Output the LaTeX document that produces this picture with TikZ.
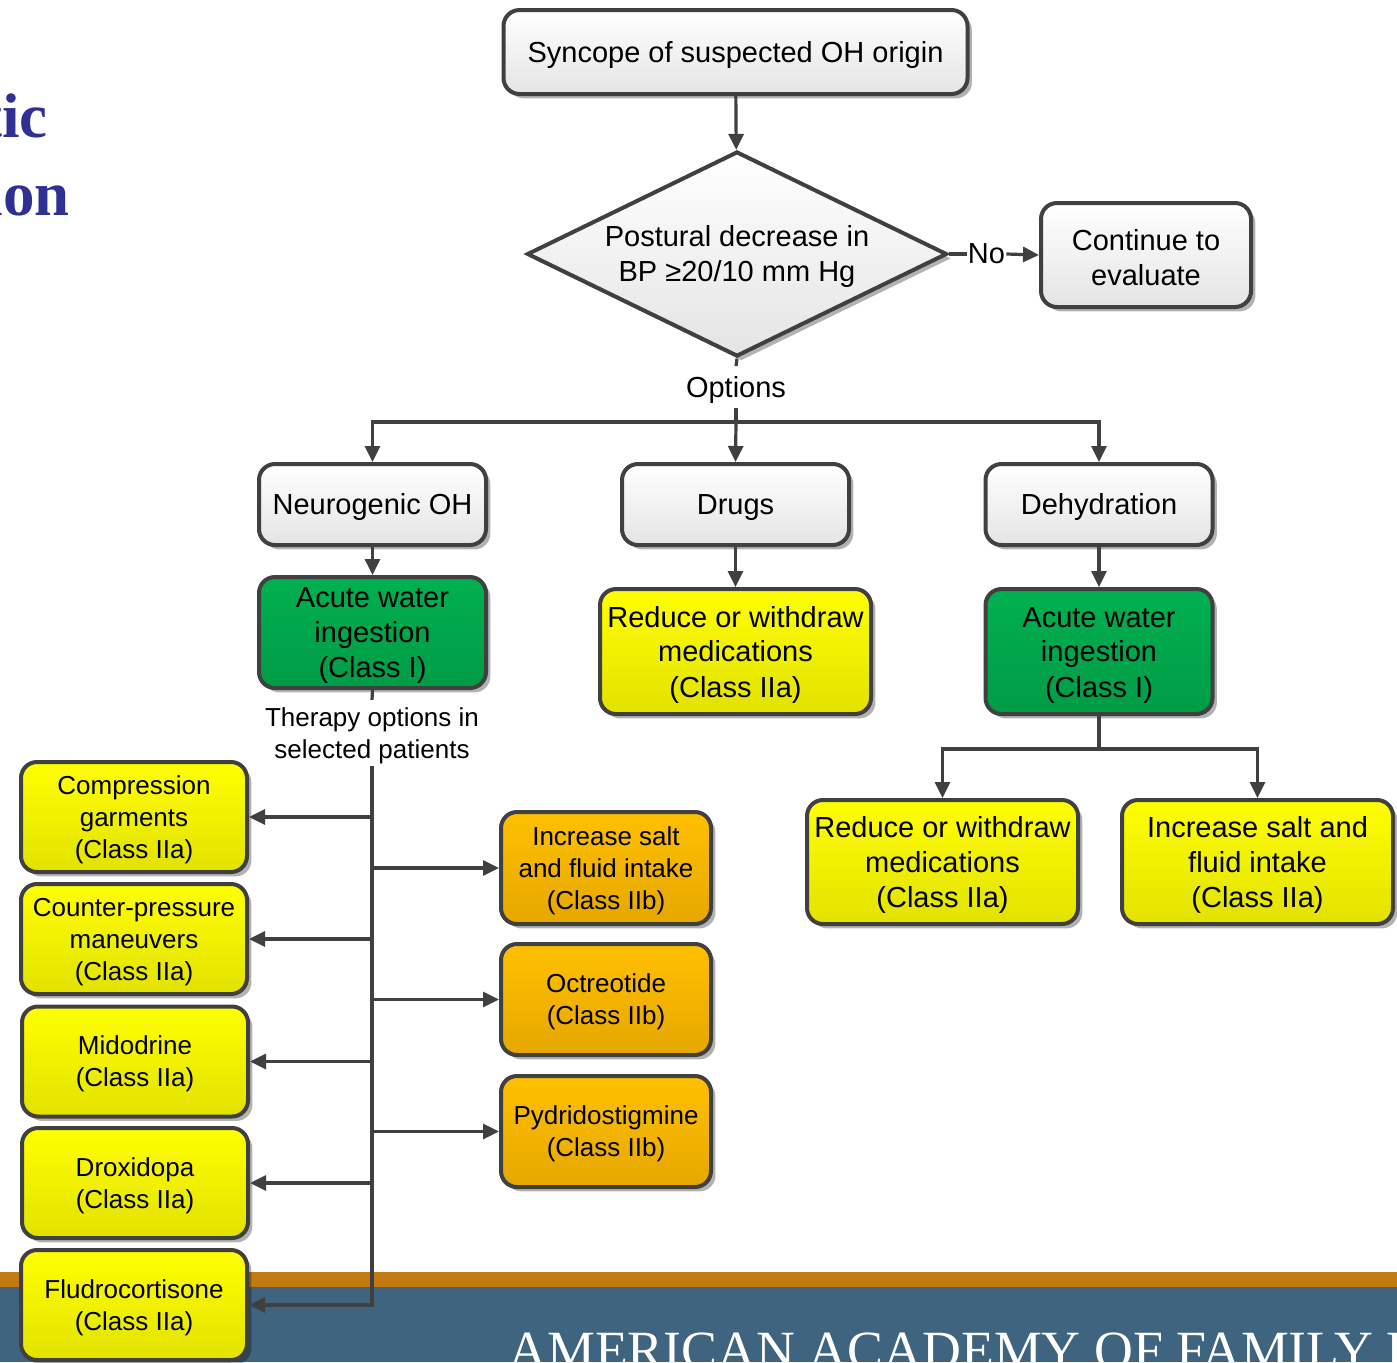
\documentclass[tikz,border=0pt]{standalone}
\usepackage{fontspec}
\setmainfont{Liberation Sans}
\newfontfamily\headserif{Liberation Serif}
\usetikzlibrary{shapes.geometric,arrows.meta,shadows}

\definecolor{lineC}{HTML}{404040}
\definecolor{bandOrange}{RGB}{194,122,18}
\definecolor{bandBlue}{RGB}{63,100,128}
\definecolor{titleBlue}{RGB}{46,49,146}
\definecolor{greenTop}{HTML}{00B050}
\definecolor{greenBot}{HTML}{009C46}
\definecolor{yellowTop}{HTML}{FFFF00}
\definecolor{yellowBot}{HTML}{E2E200}
\definecolor{orangeTop}{HTML}{FFC000}
\definecolor{orangeBot}{HTML}{E6A700}
\definecolor{greyBot}{HTML}{E4E4E4}

% a strut on the first line keeps every label at the same optical height
\newcommand{\fs}{\rule{0pt}{0.93em}}

\tikzset{
  box/.style={draw=lineC, line width=2pt, rounded corners=8pt, align=center,
    inner sep=0pt,
    drop shadow={shadow xshift=2.2pt, shadow yshift=-2.2pt, opacity=0.3, fill=black}},
  bigfont/.style={font=\fontsize{14.5}{17.5}\selectfont},
  smallfont/.style={font=\fontsize{13}{16}\selectfont},
  whitebox/.style={box, bigfont, top color=white, bottom color=greyBot},
  greenbox/.style={box, bigfont, top color=greenTop, bottom color=greenBot},
  yellowbox/.style={box, bigfont, top color=yellowTop, bottom color=yellowBot},
  yellowsmall/.style={box, smallfont, top color=yellowTop, bottom color=yellowBot,
    minimum width=113pt, minimum height=55pt},
  orangebox/.style={box, smallfont, top color=orangeTop, bottom color=orangeBot,
    minimum width=105pt, minimum height=56pt},
  link/.style={draw=lineC, line width=1.6pt},
  arr/.style={link, -{Triangle[length=8pt,width=7.5pt]}},
  label/.style={inner sep=1pt, align=center}
}

\begin{document}
\begin{tikzpicture}[x=0.5pt,y=-0.5pt]
\useasboundingbox (0,0) rectangle (1397,1362);

% footer bands
\fill[bandOrange] (0,1272) rectangle (1397,1287);
\fill[bandBlue] (0,1287) rectangle (1397,1362);

\begin{scope}
  \clip (0,0) rectangle (1397,1362);
  \node[anchor=base east, inner sep=0pt, text=titleBlue,
        font=\headserif\bfseries\fontsize{31.5}{36}\selectfont] (headA) at (48,137) {tic};
  \node[anchor=base east, inner sep=0pt, text=titleBlue,
        font=\headserif\bfseries\fontsize{31.5}{36}\selectfont] (headB) at (70,215) {ion};
  \node[anchor=base west, inner sep=0pt, text=white,
        font=\headserif\fontsize{26.9}{30}\selectfont] (foot) at (508,1368)
        {AMERICAN ACADEMY OF FAMILY PHYSICIANS};
\end{scope}

% top of the algorithm
\node[whitebox, minimum width=232pt, minimum height=42pt] (syn) at (735.5,52)
  {\fs Syncope of suspected OH origin};
\node[diamond, draw=lineC, line width=2pt, bigfont, align=center, inner sep=0pt,
      aspect=2, minimum width=210pt, minimum height=102.5pt,
      top color=white, bottom color=greyBot,
      drop shadow={shadow xshift=2.2pt, shadow yshift=-2.2pt, opacity=0.3, fill=black}]
  (dia) at (737,254) {\fs Postural decrease in\\BP ≥20/10 mm Hg};
\node[label, bigfont, inner sep=0.5pt] (no) at (986.5,254) {No};
\node[whitebox, minimum width=105pt, minimum height=52pt] (cont) at (1146,255)
  {\fs Continue to\\evaluate};
\node[label, bigfont, inner sep=2pt] (opt) at (736,387) {\fs Options};

% three branches
\node[whitebox, minimum width=113.5pt, minimum height=40.5pt] (neuro) at (372.5,504.5) {\fs Neurogenic OH};
\node[whitebox, minimum width=113.5pt, minimum height=40.5pt] (drugs) at (735.5,504.5) {\fs Drugs};
\node[whitebox, minimum width=113.5pt, minimum height=40.5pt] (dehyd) at (1099,504.5) {\fs Dehydration};

\node[greenbox, minimum width=113.5pt, minimum height=55.5pt] (acuteL) at (372.5,632.5)
  {\fs Acute water\\ingestion\\(Class I)};
\node[yellowbox, minimum width=135.5pt, minimum height=62.5pt] (redM) at (735.5,651.5)
  {\fs Reduce or withdraw\\medications\\(Class IIa)};
\node[greenbox, minimum width=113.5pt, minimum height=62.5pt] (acuteR) at (1099,651.5)
  {\fs Acute water\\ingestion\\(Class I)};

\node[label, smallfont] (ther) at (372,733) {\fs Therapy options in\\selected patients};

% neurogenic therapy options, left column
\node[yellowsmall] (comp) at (134,817) {\fs Compression\\garments\\(Class IIa)};
\node[yellowsmall] (ctr) at (134,939) {\fs Counter-pressure\\maneuvers\\(Class IIa)};
\node[yellowsmall] (mido) at (135,1061.5) {\fs Midodrine\\(Class IIa)};
\node[yellowsmall] (drox) at (135,1183) {\fs Droxidopa\\(Class IIa)};
\node[yellowsmall] (fludro) at (134,1305) {\fs Fludrocortisone\\(Class IIa)};

% neurogenic therapy options, right column
\node[orangebox] (saltL) at (606,868) {\fs Increase salt\\and fluid intake\\(Class IIb)};
\node[orangebox, minimum height=55.5pt] (oct) at (606,999.5) {\fs Octreotide\\(Class IIb)};
\node[orangebox, minimum height=55.5pt] (pyd) at (606,1131.5) {\fs Pydridostigmine\\(Class IIb)};

% dehydration follow-ups
\node[yellowbox, minimum width=135.5pt, minimum height=62pt] (redR) at (942.5,862)
  {\fs Reduce or withdraw\\medications\\(Class IIa)};
\node[yellowbox, minimum width=135.5pt, minimum height=62pt] (saltR) at (1257.5,862)
  {\fs Increase salt and\\fluid intake\\(Class IIa)};

% connectors
\coordinate (split) at (736,422);
\coordinate (splitR) at (1099,749);

\draw[arr] (syn) -- (dia);
\draw[link] (dia.east) -- (no.west);
\draw[arr] (no.east) -- (cont.west);
\draw[link] (dia.south) -- (opt.north);
\draw[link] (opt.south) -- (split);
\draw[arr] (split) -| (neuro.north);
\draw[arr] (split) -- (drugs.north);
\draw[arr] (split) -| (dehyd.north);

\draw[arr] (neuro) -- (acuteL);
\draw[arr] (drugs) -- (redM);
\draw[arr] (dehyd) -- (acuteR);

\draw[link] (acuteL.south) -- (ther.north);
\draw[arr] (ther.south) |- (fludro.east);
\draw[arr] (ther.south |- comp.east) -- (comp.east);
\draw[arr] (ther.south |- ctr.east) -- (ctr.east);
\draw[arr] (ther.south |- mido.east) -- (mido.east);
\draw[arr] (ther.south |- drox.east) -- (drox.east);
\draw[arr] (ther.south |- saltL.west) -- (saltL.west);
\draw[arr] (ther.south |- oct.west) -- (oct.west);
\draw[arr] (ther.south |- pyd.west) -- (pyd.west);

\draw[link] (acuteR.south) -- (splitR);
\draw[arr] (splitR) -| (redR.north);
\draw[arr] (splitR) -| (saltR.north);
\end{tikzpicture}
\end{document}
